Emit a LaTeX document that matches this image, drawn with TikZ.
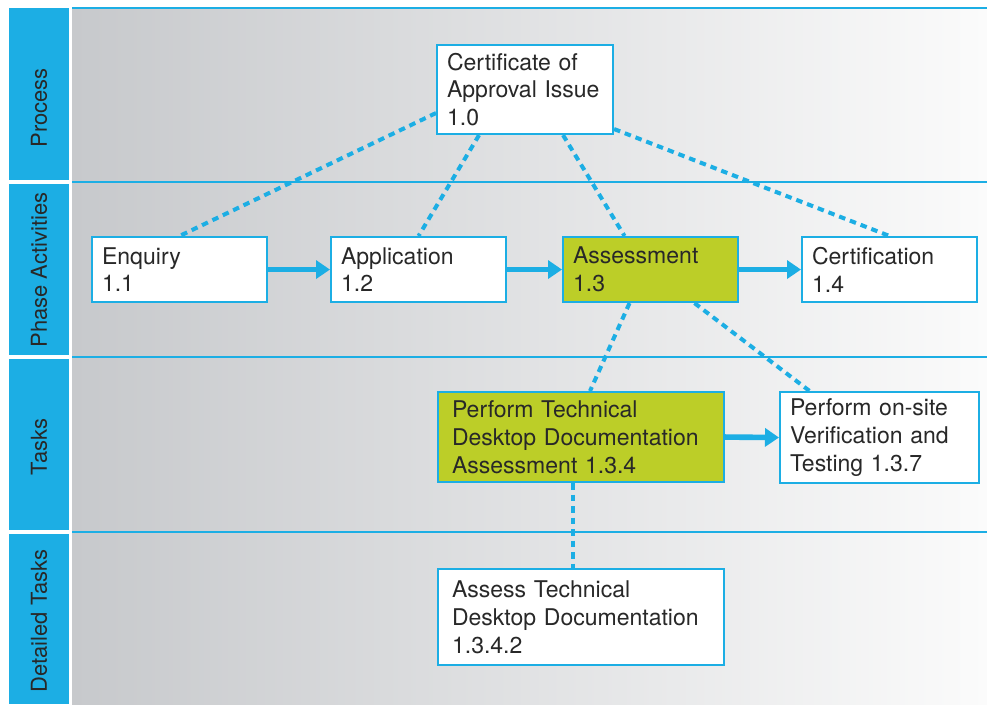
\documentclass[tikz,border=0pt]{standalone}
\usepackage{fontspec}
\setmainfont{TeX Gyre Heros}
\usepackage{xcolor}
\usetikzlibrary{arrows.meta,calc}

\definecolor{laneblue}{RGB}{28,174,228}
\definecolor{taskgreen}{RGB}{188,206,40}
\definecolor{inkgray}{RGB}{40,40,40}
\definecolor{bgleft}{RGB}{199,201,204}
\definecolor{bgright}{RGB}{251,251,251}

\tikzset{
	box/.style={draw=laneblue, line width=1.2pt, fill=white, anchor=north west, align=left,
		inner xsep=0.2cm, inner ysep=0pt, text=inkgray, font=\fontsize{13.1}{15.8}\selectfont},
	hot/.style={box, fill=taskgreen},
	lane/.style={rotate=90, text=inkgray, font=\fontsize{12.5}{15}\selectfont},
	flow/.style={laneblue, line width=3.2pt, -{Triangle[length=0.28cm,width=0.36cm]}},
	link/.style={laneblue, line width=2.3pt, dash pattern=on 0.13cm off 0.1cm},
	rowline/.style={laneblue, line width=1.6pt}
}

\begin{document}
\begin{tikzpicture}[x=0.02cm,y=-0.02cm]
		\useasboundingbox (0,0) rectangle (987,704);
		
		% swimlane background
		\shade[left color=bgleft, right color=bgright] (72,8) rectangle (987,704);
		\foreach \a/\b in {8/180,184/355,359/530,534/704}
			\fill[laneblue] (9,\a) rectangle (69,\b);
		\foreach \y in {8,182,357,532}
			\draw[rowline] (72,\y) -- (987,\y);
		
		\node[lane] (lproc) at (39,108) {Process};
		\node[lane] (lphase) at (39,270) {Phase Activities};
		\node[lane] (ltask) at (39,447) {Tasks};
		\node[lane] (ldet) at (39,621) {Detailed Tasks};
		
		% boxes
		\node[box, text width=3.12cm, minimum height=1.78cm] (cert) at (436,44) {Certificate of\\Approval Issue\\1.0};
		
		\node[box, text width=3.1cm, minimum height=1.3cm] (enq) at (91,236) {Enquiry\\1.1};
		\node[box, text width=3.1cm, minimum height=1.3cm] (app) at (330,236) {Application\\1.2};
		\node[hot, text width=3.1cm, minimum height=1.3cm] (ass) at (562,236) {Assessment\\1.3};
		\node[box, text width=3.1cm, minimum height=1.3cm] (cfn) at (801,236) {Certification\\1.4};
		
		\node[hot, minimum height=1.8cm, inner xsep=0.28cm, text width=5.16cm] (ptech) at (437,391) {Perform Technical\\Desktop Documentation\\Assessment 1.3.4};
		\node[box, text width=3.58cm, minimum height=1.82cm] (onsite) at (779,391) {Perform on-site\\Verification and\\Testing 1.3.7};
		
		\node[box, minimum height=1.92cm, inner xsep=0.28cm, text width=5.16cm] (assess) at (437,568) {Assess Technical\\Desktop Documentation\\1.3.4.2};
		
		% sequence
		\draw[flow] (enq.east) -- (app.west);
		\draw[flow] (app.east) -- (ass.west);
		\draw[flow] (ass.east) -- (cfn.west);
		\draw[flow] (ptech.east) -- (onsite.west);
		
		% breakdown
		\draw[link] ([yshift=-0.47cm]cert.west) -- (enq.north);
		\draw[link] ([xshift=-0.92cm]cert.south) -- (app.north);
		\draw[link] ([xshift=0.76cm]cert.south) -- ([xshift=-0.52cm]ass.north);
		\draw[link] ([yshift=-0.79cm]cert.east) -- (cfn.north);
		\draw[link] ([xshift=-0.42cm]ass.south) -- ([xshift=0.18cm]ptech.north);
		\draw[link] ([xshift=0.88cm]ass.south) -- ([xshift=-1.4cm]onsite.north);
		\draw[link] ([xshift=-0.16cm]ptech.south) -- ([xshift=-0.16cm]assess.north);
\end{tikzpicture}
\end{document}
